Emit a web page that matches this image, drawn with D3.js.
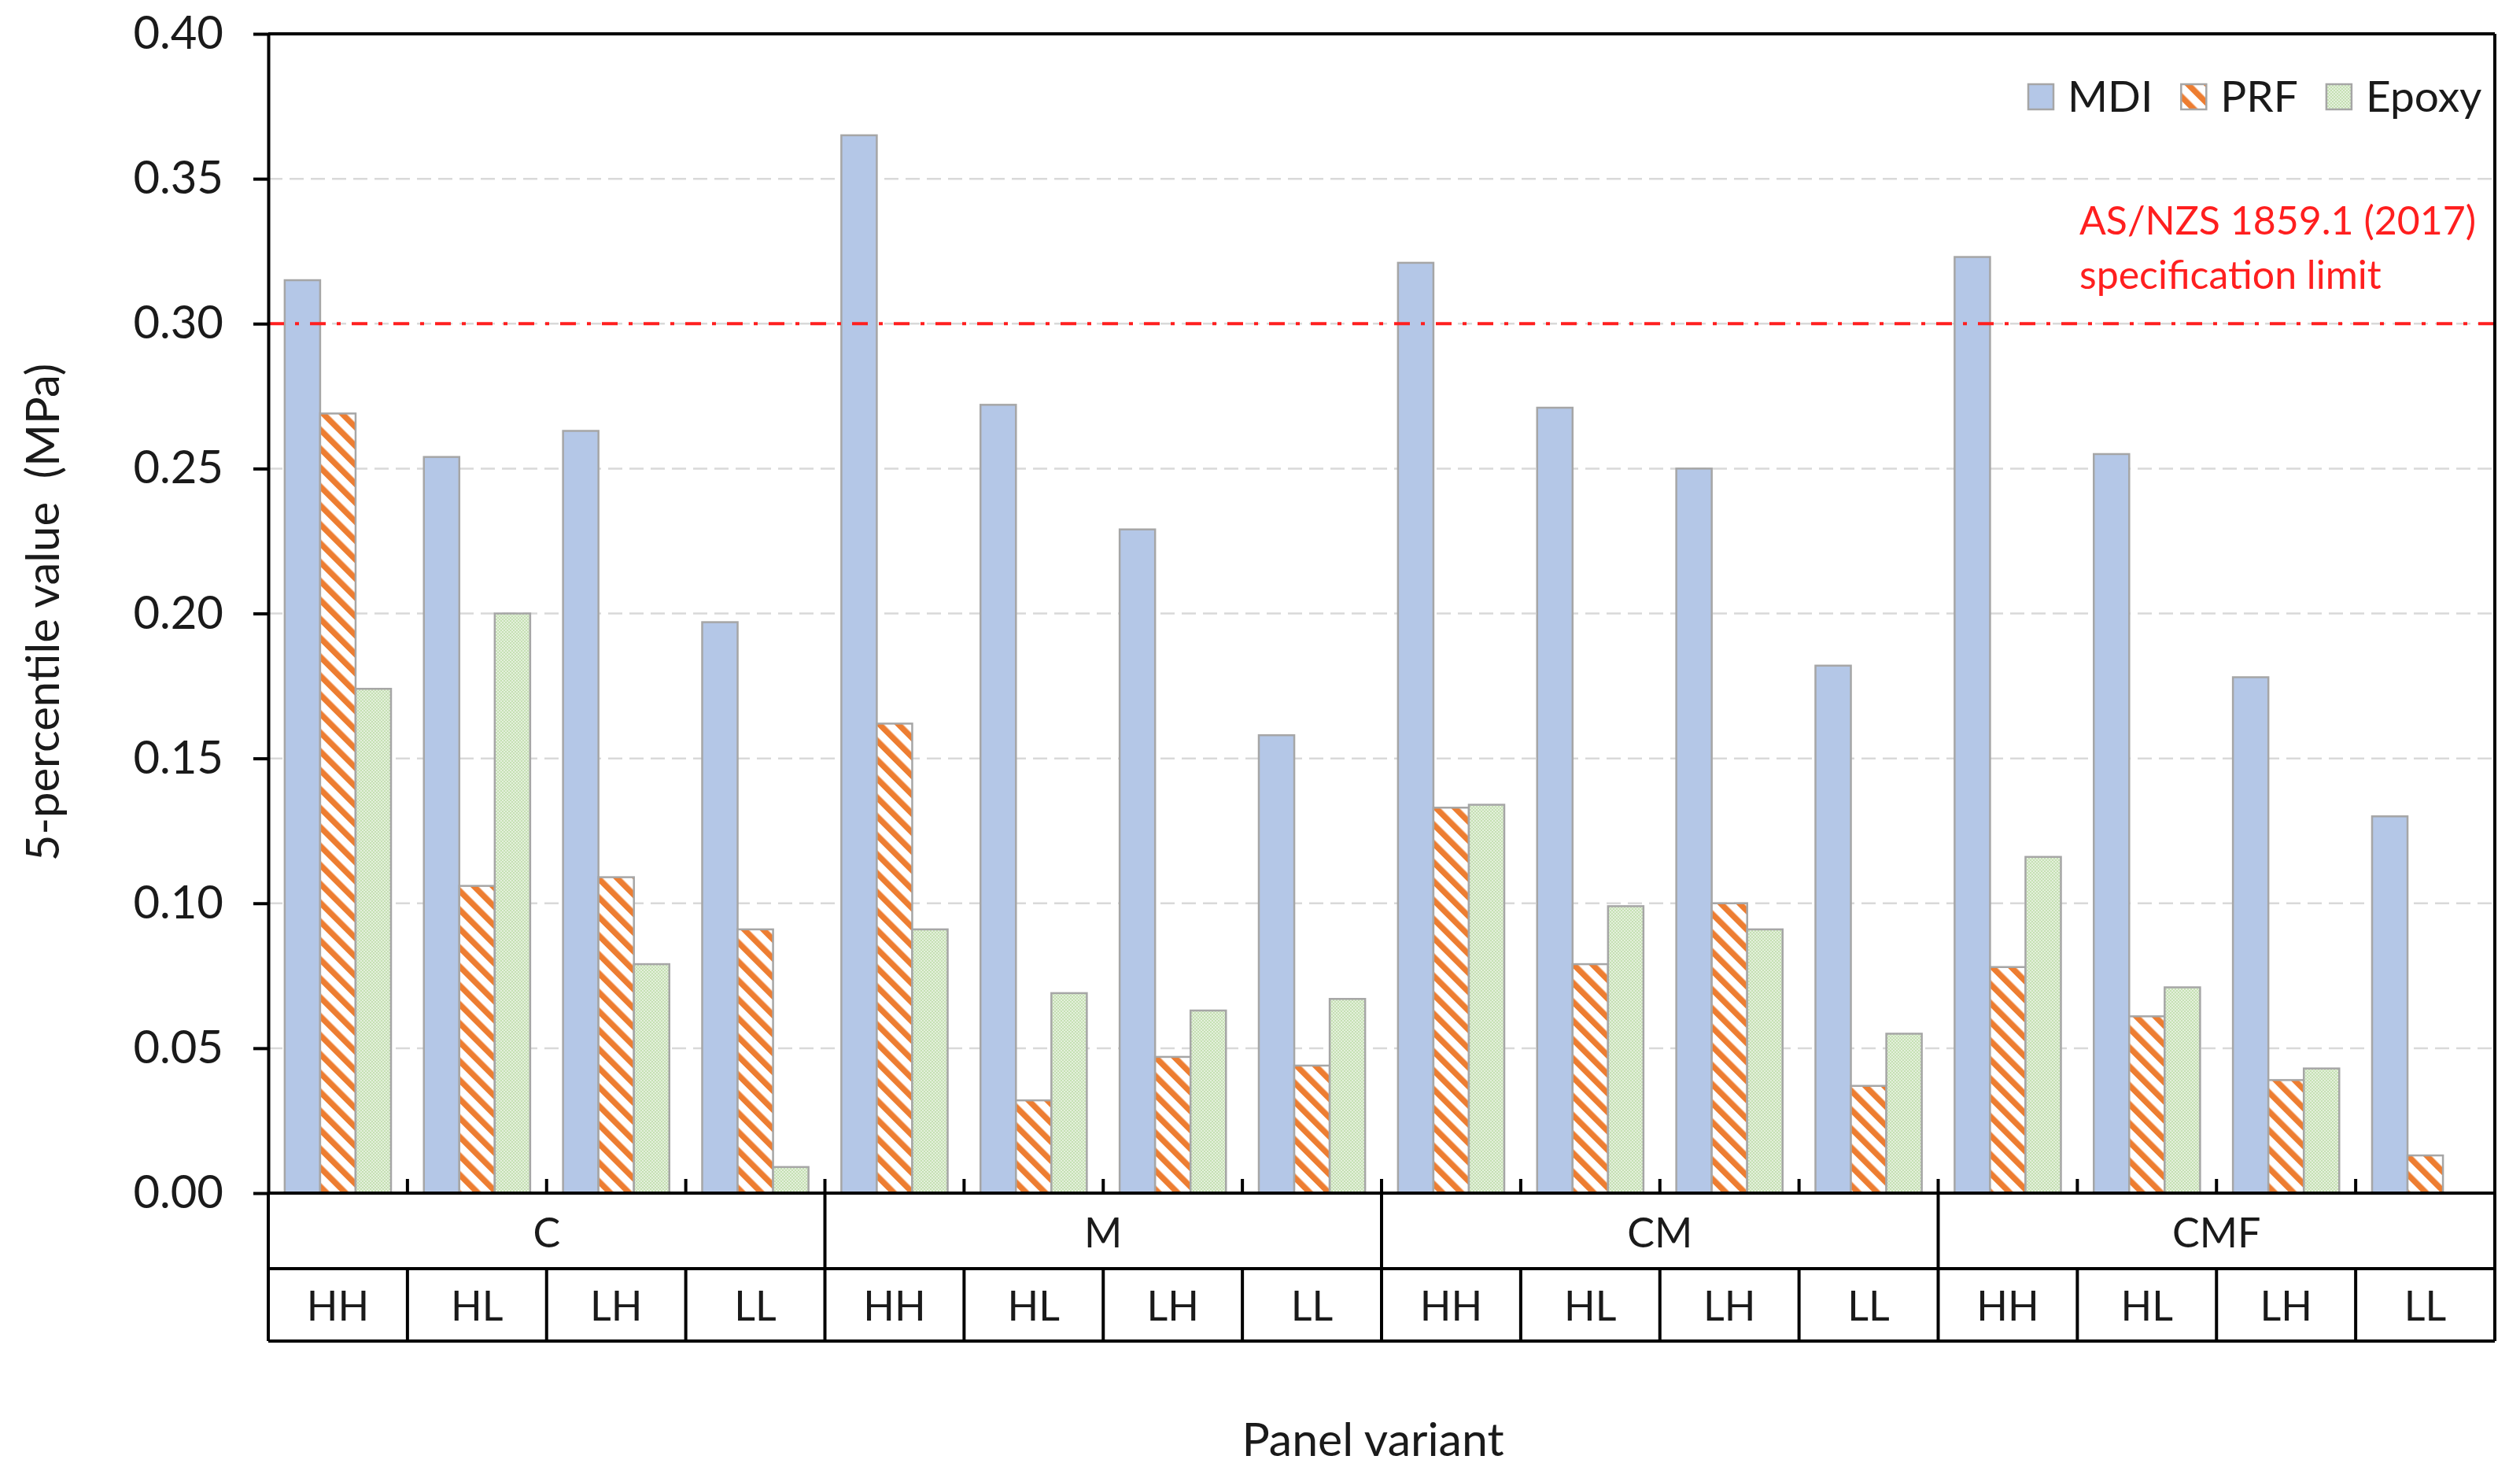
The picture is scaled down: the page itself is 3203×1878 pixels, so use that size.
<!DOCTYPE html>
<html>
<head>
<meta charset="utf-8">
<script src="https://cdn.jsdelivr.net/npm/d3@7"></script>
<style>
  body { margin: 0; background: #fff; }
  text { font-family: Lato, "Open Sans", sans-serif; fill: #1a1a1a; }
</style>
</head>
<body>
<div id="chart"></div>
<script>
/* data */
const groups = ["C", "M", "CM", "CMF"]
const variants = ["HH", "HL", "LH", "LL"]
const series = ["MDI", "PRF", "Epoxy"]

// 5-percentile values (MPa), order: C HH..LL, M HH..LL, CM HH..LL, CMF HH..LL
const mdi   = [0.315, 0.254, 0.263, 0.197, 0.365, 0.272, 0.229, 0.158, 0.321, 0.271, 0.250, 0.182, 0.323, 0.255, 0.178, 0.130]
const prf   = [0.269, 0.106, 0.109, 0.091, 0.162, 0.032, 0.047, 0.044, 0.133, 0.079, 0.100, 0.037, 0.078, 0.061, 0.039, 0.013]
const epoxy = [0.174, 0.200, 0.079, 0.009, 0.091, 0.069, 0.063, 0.067, 0.134, 0.099, 0.091, 0.055, 0.116, 0.071, 0.043, null]

const yTicks = [0, 0.05, 0.10, 0.15, 0.20, 0.25, 0.30, 0.35, 0.40]
const limitValue = 0.30
const limitLabel = ["AS/NZS 1859.1 (2017)", "specification limit"]

const width = 3203
const height = 1878
const plotL = 341, plotR = 3171, plotT = 43, plotB = 1516
const row1 = 1612, row2 = 1704

/* categories */
const cats = []
groups.forEach(g => variants.forEach(v => cats.push({ group: g, variant: v, key: g + "-" + v })))
const values = { MDI: mdi, PRF: prf, Epoxy: epoxy }
const bars = []
cats.forEach((c, i) => series.forEach(s => {
  if (values[s][i] != null) bars.push({ key: c.key, series: s, value: values[s][i] })
}))

const x0 = d3.scaleBand().domain(cats.map(d => d.key)).range([plotL, plotR])
const x1 = d3.scaleBand().domain(series)
  .range([x0.bandwidth() * 0.118, x0.bandwidth() * 0.882])
const xg = d3.scaleBand().domain(groups).range([plotL, plotR])
const y = d3.scaleLinear().domain([0, 0.40]).range([plotB, plotT])

const svg = d3.select("#chart").append("svg")
  .attr("width", width)
  .attr("height", height)
  .attr("viewBox", `0 0 ${width} ${height}`)

/* fill patterns */
const defs = svg.append("defs")
const hatch = defs.append("pattern")
  .attr("id", "hatch")
  .attr("patternUnits", "userSpaceOnUse")
  .attr("width", 17).attr("height", 17)
  .attr("patternTransform", "rotate(-45)")
hatch.append("rect").attr("width", 17).attr("height", 17).attr("fill", "#fff")
hatch.append("rect").attr("width", 7.5).attr("height", 17).attr("fill", "#ed7d31")

const checker = defs.append("pattern")
  .attr("id", "checker")
  .attr("patternUnits", "userSpaceOnUse")
  .attr("width", 4).attr("height", 4)
checker.append("rect").attr("width", 4).attr("height", 4).attr("fill", "#e4f0dc")
checker.append("rect").attr("width", 2).attr("height", 2).attr("fill", "#c5e0b3")
checker.append("rect").attr("x", 2).attr("y", 2).attr("width", 2).attr("height", 2).attr("fill", "#c5e0b3")

const fills = { MDI: "#b4c7e7", PRF: "url(#hatch)", Epoxy: "url(#checker)" }

/* gridlines */
svg.append("g")
  .selectAll("line")
  .data(yTicks.filter(d => d > 0 && d < 0.40))
  .join("line")
  .attr("x1", plotL).attr("x2", plotR)
  .attr("y1", d => y(d)).attr("y2", d => y(d))
  .attr("stroke", "#d9d9d9")
  .attr("stroke-width", 2.5)
  .attr("stroke-dasharray", "18 9")

/* bars */
svg.append("g")
  .selectAll("rect")
  .data(bars)
  .join("rect")
  .attr("x", d => x0(d.key) + x1(d.series))
  .attr("y", d => y(d.value))
  .attr("width", x1.bandwidth())
  .attr("height", d => y(0) - y(d.value))
  .attr("fill", d => fills[d.series])
  .attr("stroke", "#a6a6a6")
  .attr("stroke-width", 2.5)

/* limit line */
svg.append("line")
  .attr("x1", plotL).attr("x2", plotR)
  .attr("y1", y(limitValue)).attr("y2", y(limitValue))
  .attr("stroke", "#ff1f1f")
  .attr("stroke-width", 4)
  .attr("stroke-dasharray", "20 14 5 14")

svg.append("g")
  .selectAll("text")
  .data(limitLabel)
  .join("text")
  .attr("x", 2643)
  .attr("y", (d, i) => 280 + i * 69)
  .attr("dy", "0.35em")
  .attr("font-size", 50)
  .style("fill", "#ff1f1f")
  .text(d => d)

/* y axis */
const yAxis = svg.append("g")
  .attr("transform", `translate(${plotL},0)`)
  .call(d3.axisLeft(y).tickValues(yTicks).tickFormat(d3.format(".2f"))
    .tickSize(19).tickSizeOuter(0).tickPadding(38))
yAxis.select(".domain").attr("stroke", "#000").attr("stroke-width", 4)
yAxis.selectAll(".tick line").attr("stroke", "#000").attr("stroke-width", 4)
yAxis.selectAll(".tick text").attr("font-size", 58).attr("font-family", null)

/* plot border (top, right) and baseline */
const frame = svg.append("g").attr("stroke", "#000").attr("stroke-width", 4)
frame.append("line").attr("x1", plotL).attr("x2", plotR).attr("y1", plotT).attr("y2", plotT)
frame.append("line").attr("x1", plotR).attr("x2", plotR).attr("y1", plotT).attr("y2", plotB)
frame.append("line").attr("x1", plotL).attr("x2", plotR).attr("y1", plotB).attr("y2", plotB)

/* category ticks inside the plot */
frame.append("g")
  .selectAll("line")
  .data(cats.slice(1))
  .join("line")
  .attr("x1", d => x0(d.key)).attr("x2", d => x0(d.key))
  .attr("y1", plotB).attr("y2", plotB - 18)

/* category table below */
const table = svg.append("g").attr("stroke", "#000").attr("stroke-width", 4)
table.append("line").attr("x1", plotL).attr("x2", plotR).attr("y1", row1).attr("y2", row1)
table.append("line").attr("x1", plotL).attr("x2", plotR).attr("y1", row2).attr("y2", row2)
table.selectAll(".gdiv")
  .data(groups.concat(["end"]))
  .join("line")
  .attr("class", "gdiv")
  .attr("x1", d => d === "end" ? plotR : xg(d))
  .attr("x2", d => d === "end" ? plotR : xg(d))
  .attr("y1", plotB).attr("y2", row2)
table.selectAll(".vdiv")
  .data(cats.filter(d => d.variant !== variants[0]))
  .join("line")
  .attr("class", "vdiv")
  .attr("x1", d => x0(d.key)).attr("x2", d => x0(d.key))
  .attr("y1", row1).attr("y2", row2)

svg.append("g")
  .selectAll("text")
  .data(groups)
  .join("text")
  .attr("x", d => xg(d) + xg.bandwidth() / 2)
  .attr("y", (plotB + row1) / 2 + 3)
  .attr("dy", "0.35em")
  .attr("text-anchor", "middle")
  .attr("font-size", 52)
  .text(d => d)

svg.append("g")
  .selectAll("text")
  .data(cats)
  .join("text")
  .attr("x", d => x0(d.key) + x0.bandwidth() / 2)
  .attr("y", (row1 + row2) / 2 + 2)
  .attr("dy", "0.35em")
  .attr("text-anchor", "middle")
  .attr("font-size", 52)
  .text(d => d.variant)

/* legend */
const legend = svg.append("g")
let lx = 2578
series.forEach(s => {
  legend.append("rect")
    .attr("x", lx).attr("y", 107)
    .attr("width", 32).attr("height", 32)
    .attr("fill", fills[s])
    .attr("stroke", "#a6a6a6")
    .attr("stroke-width", 2.5)
  const t = legend.append("text")
    .attr("x", lx + 50).attr("y", 123)
    .attr("dy", "0.35em")
    .attr("font-size", 55)
    .text(s)
  lx += 50 + t.node().getComputedTextLength() + 36
})

/* axis titles */
svg.append("text")
  .attr("transform", "translate(55,778) rotate(-90)")
  .attr("dy", "0.35em")
  .attr("text-anchor", "middle")
  .attr("font-size", 58)
  .style("white-space", "pre")
  .text("5-percentile value  (MPa)")

svg.append("text")
  .attr("x", 1745)
  .attr("y", 1829)
  .attr("dy", "0.35em")
  .attr("text-anchor", "middle")
  .attr("font-size", 59)
  .text("Panel variant")
</script>
</body>
</html>
